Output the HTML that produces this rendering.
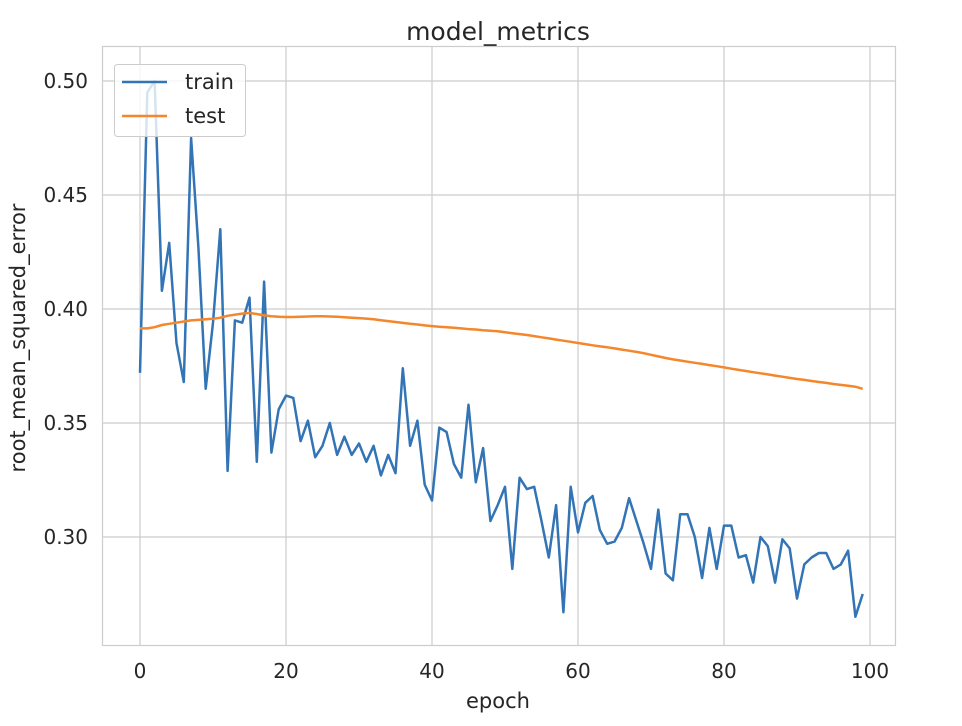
<!DOCTYPE html>
<html><head><meta charset="utf-8"><style>
body{margin:0;background:#fff;}
svg{display:block;font-family:"DejaVu Sans","Liberation Sans",sans-serif;}
</style></head><body>
<svg id="chart" width="962" height="726">
<rect x="0" y="0" width="962" height="726" fill="#fff"/>
<text x="498" y="40" font-size="25" fill="#262626" text-anchor="middle">model_metrics</text>
<g id="grid"></g>
<rect x="102.5" y="46.5" width="793" height="599" fill="none" stroke="#cccccc" stroke-width="1.2"/>
<g id="series"></g>
<g id="ticks"></g>
<text x="498" y="708" font-size="21" fill="#262626" text-anchor="middle">epoch</text>
<text transform="translate(25,338) rotate(-90)" font-size="21" fill="#262626" text-anchor="middle">root_mean_squared_error</text>
<g>
<rect x="114.5" y="64.5" width="131" height="72" rx="3" fill="#fff" fill-opacity="0.8" stroke="#cccccc" stroke-width="1"/>
<line x1="122" y1="82" x2="167" y2="82" stroke="#3274b5" stroke-width="2.5"/>
<text x="185" y="89" font-size="21" fill="#262626">train</text>
<line x1="122" y1="116" x2="167" y2="116" stroke="#f4862b" stroke-width="2.5"/>
<text x="185" y="123" font-size="21" fill="#262626">test</text>
</g>
</svg>
<script>
const xTicks = [0, 20, 40, 60, 80, 100];
const yTicks = [0.30, 0.35, 0.40, 0.45, 0.50];
const yTickLabels = ["0.30", "0.35", "0.40", "0.45", "0.50"];
const trainValues = [0.372,0.495,0.500,0.408,0.429,0.385,0.368,0.475,0.427,0.365,
0.394,0.435,0.329,0.395,0.394,0.405,0.333,0.412,0.337,0.356,
0.362,0.361,0.342,0.351,0.335,0.340,0.350,0.336,0.344,0.336,
0.341,0.333,0.340,0.327,0.336,0.328,0.374,0.340,0.351,0.323,
0.316,0.348,0.346,0.332,0.326,0.358,0.324,0.339,0.307,0.314,
0.322,0.286,0.326,0.321,0.322,0.307,0.291,0.314,0.267,0.322,
0.302,0.315,0.318,0.303,0.297,0.298,0.304,0.317,0.307,0.297,
0.286,0.312,0.284,0.281,0.310,0.310,0.300,0.282,0.304,0.286,
0.305,0.305,0.291,0.292,0.280,0.300,0.296,0.280,0.299,0.295,
0.273,0.288,0.291,0.293,0.293,0.286,0.288,0.294,0.265,0.275];
const testValues = [0.3915,0.3915,0.3920,0.3930,0.3935,0.3940,0.3945,0.3950,0.3952,0.3955,
0.3957,0.3962,0.3970,0.3975,0.3980,0.3983,0.3978,0.3972,0.3968,0.3966,
0.3965,0.3965,0.3966,0.3967,0.3968,0.3968,0.3967,0.3966,0.3964,0.3962,
0.3960,0.3958,0.3955,0.3951,0.3947,0.3943,0.3939,0.3935,0.3932,0.3928,
0.3925,0.3922,0.3920,0.3918,0.3915,0.3912,0.3910,0.3907,0.3905,0.3902,
0.3898,0.3894,0.3890,0.3886,0.3881,0.3876,0.3871,0.3866,0.3861,0.3856,
0.3851,0.3846,0.3841,0.3836,0.3832,0.3827,0.3822,0.3817,0.3812,0.3806,
0.3799,0.3792,0.3785,0.3779,0.3774,0.3769,0.3764,0.3759,0.3754,0.3749,
0.3744,0.3738,0.3733,0.3728,0.3723,0.3718,0.3713,0.3708,0.3703,0.3698,
0.3693,0.3689,0.3684,0.3680,0.3676,0.3671,0.3667,0.3663,0.3659,0.3650];

const NS = "http://www.w3.org/2000/svg";
function xScale(e){ return 140 + e * 7.3; }
function yScale(v){ return 81 + (0.5 - v) * 2280; }
function mk(tag, attrs, parent){ const el = document.createElementNS(NS, tag); for (const k in attrs) el.setAttribute(k, attrs[k]); parent.appendChild(el); return el; }

const grid = document.getElementById('grid');
const ticks = document.getElementById('ticks');
xTicks.forEach(t => {
  const x = xScale(t);
  const g = mk('line', {x1:x, x2:x, y1:46, y2:645, stroke:'#cccccc', 'stroke-width':1.2}, grid);
  
  
  const tx = mk('text', {x:x, y:678, 'font-size':20, fill:'#262626', 'text-anchor':'middle'}, ticks);
  tx.textContent = String(t);
  
  
});
yTicks.forEach((t, i) => {
  const y = yScale(t);
  const g = mk('line', {x1:102, x2:895, y1:y, y2:y, stroke:'#cccccc', 'stroke-width':1.2}, grid);
  
  
  const tx = mk('text', {x:88, y:y + 7, 'font-size':20, fill:'#262626', 'text-anchor':'end'}, ticks);
  tx.textContent = yTickLabels[i];
  
  
});
const series = document.getElementById('series');
function pts(arr){ return arr.map((v, i) => xScale(i).toFixed(1) + ',' + yScale(v).toFixed(1)).join(' '); }
const trainLine = mk('polyline', {points:pts(trainValues), fill:'none', stroke:'#3274b5', 'stroke-width':2.5, 'stroke-linejoin':'round'}, series);


const testLine = mk('polyline', {points:pts(testValues), fill:'none', stroke:'#f4862b', 'stroke-width':2.5, 'stroke-linejoin':'round'}, series);


</script>
</body></html>
